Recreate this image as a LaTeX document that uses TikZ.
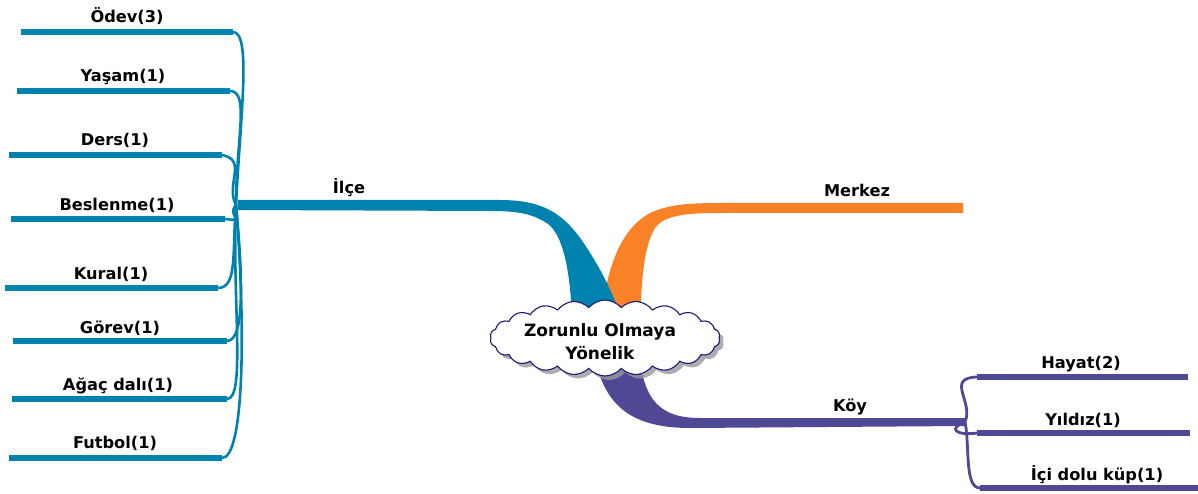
\documentclass[tikz,border=0pt]{standalone}
\usepackage{fontspec}
\setmainfont{DejaVu Sans}
\usetikzlibrary{shapes.symbols,shadows}
\definecolor{cteal}{RGB}{0,130,174}
\definecolor{corange}{RGB}{250,130,38}
\definecolor{cpurple}{RGB}{79,72,149}
\definecolor{cnavy}{RGB}{26,26,122}
\tikzset{
  lbl/.style={font=\fontsize{16.2}{18}\selectfont\bfseries, anchor=base, inner sep=0},
  leafL/.style={draw=cteal, line width=6.8pt},
  leafR/.style={draw=cpurple, line width=6.8pt},
  conL/.style={draw=cteal, line width=2.6pt},
  conR/.style={draw=cpurple, line width=2.8pt},
}
\begin{document}
\begin{tikzpicture}[x=1pt,y=-1pt]
\useasboundingbox (0,0) rectangle (1198,494);
% main branches
\fill[corange] (600,320) .. controls (608,265) and (620,230) .. (650,213) .. controls (670,204) and (690,203) .. (723,203) -- (963,203) -- (963,213) -- (723,213) .. controls (690,213) and (665,214) .. (655,228) .. controls (645,245) and (642,270) .. (640,320) -- cycle;
\fill[cteal] (238,200) -- (500,200) .. controls (545,200) and (565,215) .. (585,245) .. controls (600,268) and (612,290) .. (622,320) -- (572,320) .. controls (570,260) and (560,230) .. (545,222) .. controls (530,213) and (515,211) .. (490,211) -- (238,210) -- cycle;
\fill[cpurple] (595,360) .. controls (605,400) and (625,428) .. (690,428) -- (965,426) -- (965,418) -- (700,418) .. controls (660,418) and (645,400) .. (640,360) -- cycle;
% root
\node[cloud, cloud puffs=22, cloud puff arc=100, aspect=3, minimum width=230pt, minimum height=76pt, inner sep=0, draw=cnavy, line width=1.1pt, fill=white, drop shadow={shadow xshift=4pt, shadow yshift=-4pt, fill=black!40, opacity=0.8}] (root) at (605,338) {};
\node[lbl, anchor=center, align=center, font=\fontsize{17}{23}\selectfont\bfseries] (roottext) at (600,342) {Zorunlu Olmaya\\Yönelik};
% branch labels
\node[lbl] (ilce) at (349,194) {İlçe};
\node[lbl] (merkez) at (857,197) {Merkez};
\node[lbl] (koy) at (850,411) {Köy};
% hubs
\coordinate (L) at (236,205);
\coordinate (K) at (965,422);
% left leaves
\coordinate (e1) at (233,32);
\coordinate (e2) at (230,91);
\coordinate (e3) at (222,155);
\coordinate (e4) at (225,219);
\coordinate (e5) at (218,288);
\coordinate (e6) at (227,341);
\coordinate (e7) at (227,399);
\coordinate (e8) at (222,458);
\draw[leafL] (21,32) -- (e1);
\draw[leafL] (17,91) -- (e2);
\draw[leafL] (9,155) -- (e3);
\draw[leafL] (11,219) -- (e4);
\draw[leafL] (5,288) -- (e5);
\draw[leafL] (13,341) -- (e6);
\draw[leafL] (12,399) -- (e7);
\draw[leafL] (9,458) -- (e8);
\node[lbl] (n1) at (127,23) {Ödev(3)};
\node[lbl] (n2) at (123,82) {Yaşam(1)};
\node[lbl] (n3) at (115,146) {Ders(1)};
\node[lbl] (n4) at (117,211) {Beslenme(1)};
\node[lbl] (n5) at (111,279) {Kural(1)};
\node[lbl] (n6) at (120,333) {Görev(1)};
\node[lbl] (n7) at (118,390) {Ağaç dalı(1)};
\node[lbl] (n8) at (115,448) {Futbol(1)};
\draw[conL] (L) .. controls (240,120) and (252,32) .. (e1);
\draw[conL] (L) .. controls (236,140) and (250,91) .. (e2);
\draw[conL] (L) .. controls (225,185) and (248,160) .. (e3);
\draw[conL] (L) .. controls (226,216) and (248,222) .. (e4);
\draw[conL] (L) .. controls (232,250) and (238,288) .. (e5);
\draw[conL] (L) .. controls (242,270) and (246,341) .. (e6);
\draw[conL] (L) .. controls (232,300) and (246,399) .. (e7);
\draw[conL] (L) .. controls (246,330) and (244,458) .. (e8);
% right leaves
\coordinate (r1) at (977,377);
\coordinate (r2) at (977,433);
\coordinate (r3) at (980,488);
\draw[leafR] (r1) -- (1188,377);
\draw[leafR] (r2) -- (1190,433);
\draw[leafR] (r3) -- (1198,488);
\node[lbl] (m1) at (1081,368) {Hayat(2)};
\node[lbl] (m2) at (1083,425) {Yıldız(1)};
\node[lbl] (m3) at (1097,480) {İçi dolu küp(1)};
\draw[conR] (K) .. controls (974,402) and (945,378) .. (r1);
\draw[conR] (K) .. controls (948,428) and (955,436) .. (r2);
\draw[conR] (K) .. controls (970,445) and (964,488) .. (r3);
\end{tikzpicture}
\end{document}
